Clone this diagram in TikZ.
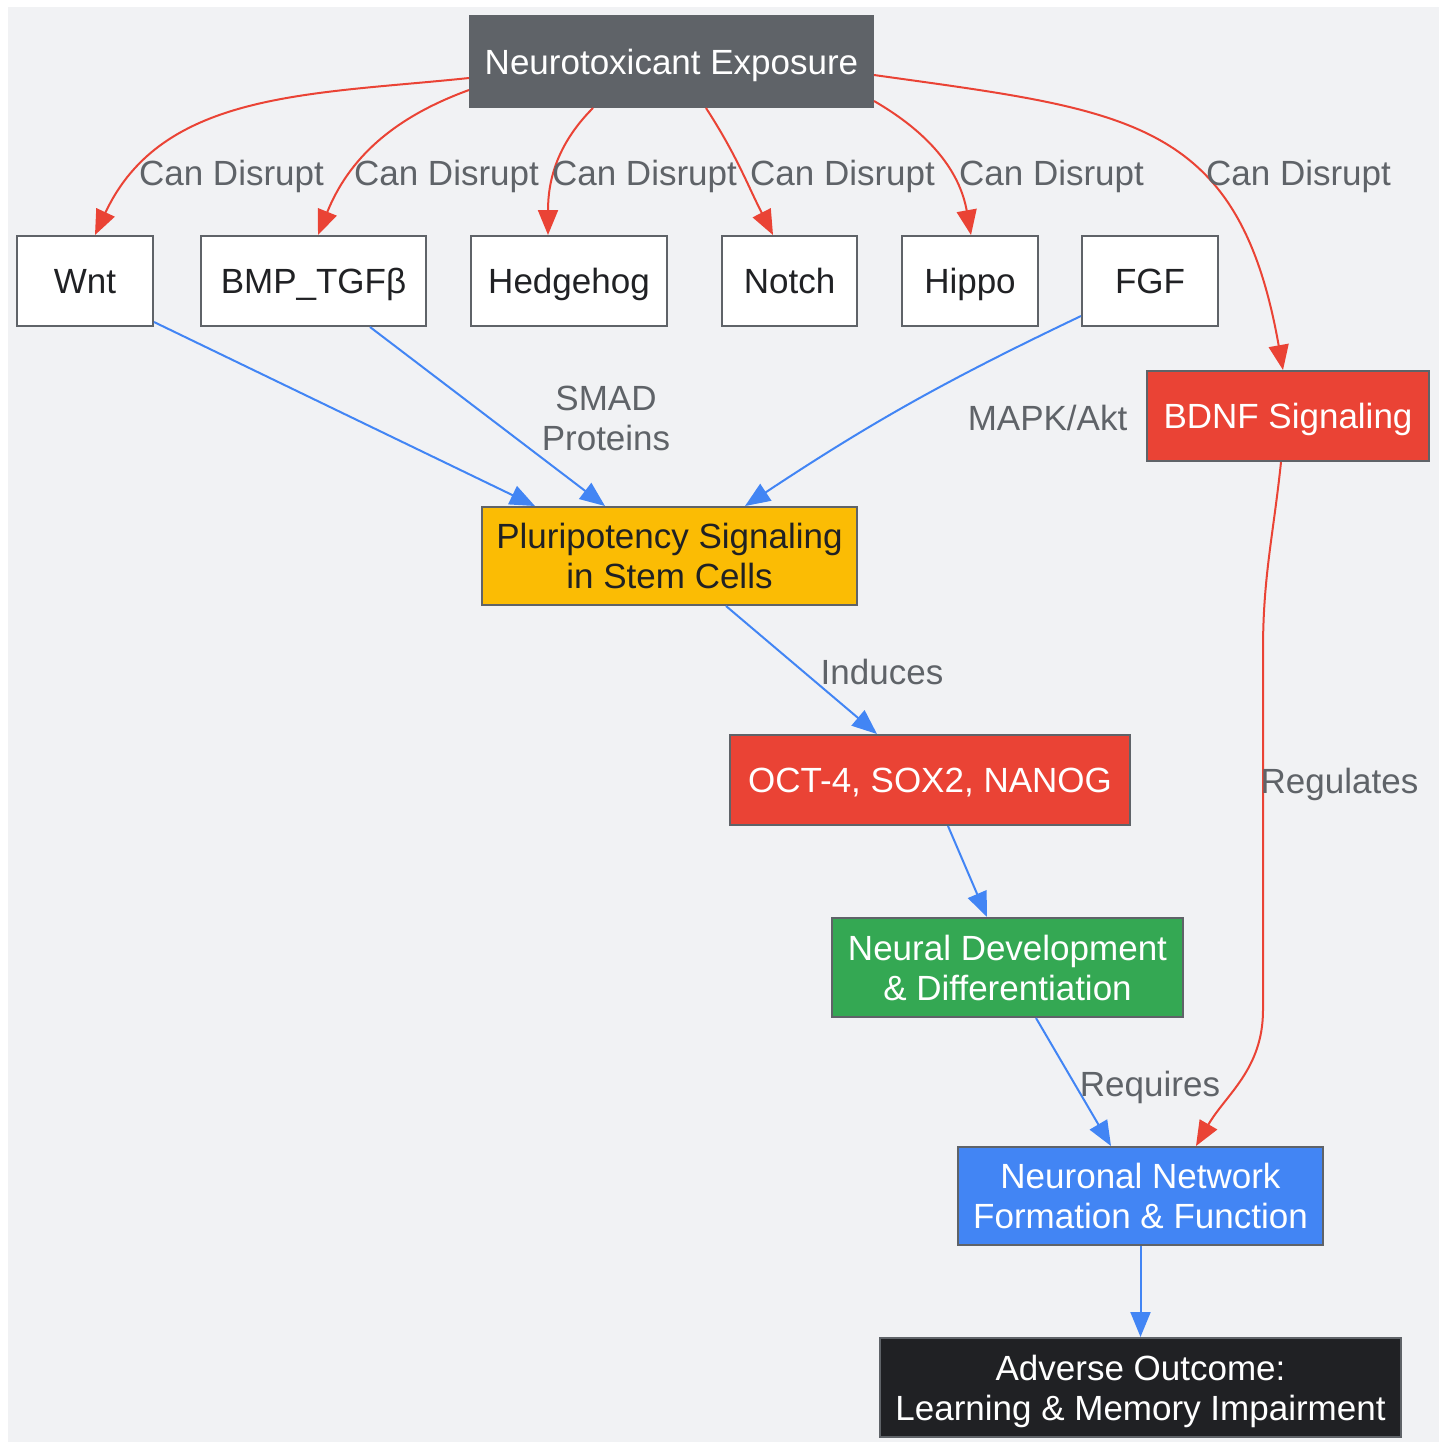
\documentclass[tikz,border=0pt]{standalone}
\usepackage{fontspec}
\setmainfont{Liberation Sans}
\usetikzlibrary{arrows.meta,calc}
\definecolor{bggray}{HTML}{F1F2F4}
\definecolor{midgray}{HTML}{5F6368}
\definecolor{gred}{HTML}{EA4335}
\definecolor{gblue}{HTML}{4285F4}
\definecolor{gyellow}{HTML}{FBBC04}
\definecolor{ggreen}{HTML}{34A853}
\definecolor{gdark}{HTML}{202124}
\newcommand{\dfont}{\fontsize{17.5}{20}\selectfont}
\tikzset{every picture/.style={>={Triangle[length=12.5pt,width=10pt]}},
  box/.style={rectangle,draw=midgray,line width=1pt,align=center,inner sep=0pt,text depth=0pt,font=\dfont,text=gdark,fill=white},
  smallbox/.style={box,minimum height=45pt},
  lbl/.style={text=midgray,align=center,font=\dfont},
  redarrow/.style={->,draw=gred,line width=1pt},
  bluearrow/.style={->,draw=gblue,line width=1pt}}

\begin{document}
\begin{tikzpicture}[x=0.5pt,y=0.5pt]
  \useasboundingbox (0,0) rectangle (1445,-1442);
  \fill [bggray] (8,-7) rectangle (1439,-1442);
  \node (expo) [box,fill=midgray,text=white,minimum width=201.5pt,minimum height=45.5pt] at (671.5,-61.5) {Neurotoxicant Exposure};
  \node (wnt) [smallbox,minimum width=68pt] at (85,-281) {Wnt};
  \node (bmp) [smallbox,minimum width=112.5pt] at (313.5,-281) {BMP\_TGFβ};
  \node (hedge) [smallbox,minimum width=98pt] at (569,-281) {Hedgehog};
  \node (notch) [smallbox,minimum width=67.5pt] at (789.5,-281) {Notch};
  \node (hippo) [smallbox,minimum width=68pt] at (970,-281) {Hippo};
  \node (fgf) [smallbox,minimum width=68pt] at (1150,-281) {FGF};
  \node (bdnf) [smallbox,fill=gred,text=white,minimum width=141pt] at (1288,-416) {BDNF Signaling};
  \node (pluri) [box,fill=gyellow,minimum width=187.5pt,minimum height=49pt] at (669.5,-556) {Pluripotency Signaling\\in Stem Cells};
  \node (oct) [smallbox,fill=gred,text=white,minimum width=200pt] at (930,-780) {OCT-4, SOX2, NANOG};
  \node (neural) [box,fill=ggreen,text=white,minimum width=175.5pt,minimum height=49.5pt] at (1007.5,-967.5) {Neural Development\\\& Differentiation};
  \node (netw) [box,fill=gblue,text=white,minimum width=182.5pt,minimum height=49pt] at (1140.5,-1196) {Neuronal Network\\Formation \& Function};
  \node (adverse) [box,fill=gdark,text=white,minimum width=260.5pt,minimum height=49.5pt] at (1140.5,-1387.5) {Adverse Outcome:\\Learning \& Memory Impairment};
  \coordinate (r1) at (1263,-650);
  \coordinate (r2) at (1263,-1010);
  \draw [redarrow] ($(expo.west)+(0,-16.5)$) to[out=186,in=65] ($(wnt.north)+(10,0)$);
  \draw [redarrow] ($(expo.west)+(0,-28.5)$) to[out=200,in=68] ($(bmp.north)+(4.5,0)$);
  \draw [redarrow] ($(expo.south)+(-78.5,0)$) to[out=225,in=90] ($(hedge.north)+(-21,0)$);
  \draw [redarrow] ($(expo.south)+(34.5,0)$) to[out=-57,in=117] ($(notch.north)+(-16.5,0)$);
  \draw [redarrow] ($(expo.east)+(0,-39.5)$) to[out=-30,in=100] ($(hippo.north)+(1,0)$);
  \draw [redarrow] ($(expo.east)+(0,-13.5)$) to[out=-8,in=100,looseness=1.3] ($(bdnf.north)+(-5,0)$);
  \node (l1) [lbl] at (231.5,-176) {Can Disrupt};
  \node (l2) [lbl] at (446.5,-176) {Can Disrupt};
  \node (l3) [lbl] at (644.5,-176) {Can Disrupt};
  \node (l4) [lbl] at (842.5,-176) {Can Disrupt};
  \node (l5) [lbl] at (1051.5,-176) {Can Disrupt};
  \node (l6) [lbl] at (1298.5,-176) {Can Disrupt};
  \draw [bluearrow] ($(wnt.east)+(0,-41)$) -- ($(pluri.north)+(-134.5,0)$);
  \draw [bluearrow] ($(bmp.south)+(56.5,0)$) -- ($(pluri.north)+(-64.5,0)$);
  \draw [bluearrow] ($(fgf.west)+(0,-35)$) to[bend right=4] ($(pluri.north)+(75.5,0)$);
  \node (smad) [lbl] at (606,-418.5) {SMAD\\Proteins};
  \node (mapk) [lbl] at (1047.5,-418) {MAPK/Akt};
  \draw [bluearrow] ($(pluri.south)+(56.5,0)$) -- ($(oct.north)+(-53,0)$);
  \node (induces) [lbl] at (882,-672) {Induces};
  \draw [bluearrow] ($(oct.south)+(18,0)$) -- ($(neural.north)+(-20.5,0)$);
  \draw [bluearrow] ($(neural.south)+(28.5,0)$) -- ($(netw.north)+(-29.5,0)$);
  \node (requires) [lbl] at (1150,-1087) {Requires};
  \draw [redarrow] ($(bdnf.south)+(-7,0)$) to[out=-96,in=90] (r1) -- (r2) to[out=-90,in=60] ($(netw.north)+(55.5,0)$);
  \node (regulates) [lbl] at (1339.5,-784.5) {Regulates};
  \draw [bluearrow] (netw.south) -- (adverse.north);
\end{tikzpicture}
\end{document}
